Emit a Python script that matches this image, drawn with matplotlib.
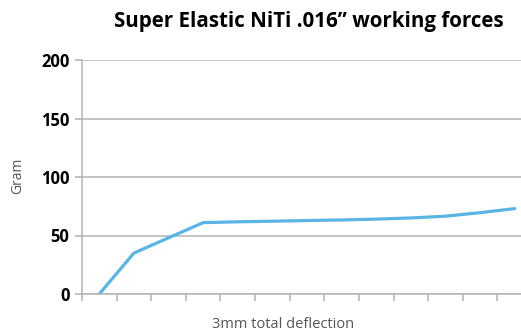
import matplotlib
matplotlib.use('Agg')
import matplotlib.pyplot as plt

# working force at each step across the 3mm deflection
steps = list(range(13))
force = [0, 35, 48, 61, 61.7, 62.2, 62.8, 63.3, 64, 65, 66.5, 69.5, 73]
yticks = [0, 50, 100, 150, 200]

plt.rcParams['font.family'] = ['Open Sans', 'DejaVu Sans']

fig = plt.figure(figsize=(5.21, 3.33), dpi=100)
ax = fig.add_axes([82 / 521, 39 / 333, 450 / 521, 234 / 333])

ax.plot(steps, force, color='#5ab4e5', linewidth=2.3, solid_capstyle='round')

ax.set_xlim(-0.5, 12.5)
ax.set_ylim(0, 200)
ax.set_xticks([i - 0.5 for i in range(14)])
ax.set_xticklabels([])
ax.set_yticks(yticks)
ax.set_yticklabels([str(v) for v in yticks], fontsize=12, fontweight='bold')

ax.grid(axis='y', color='#b3b3b3', linewidth=1.1)
ax.set_axisbelow(True)
for side in ['top', 'right']:
    ax.spines[side].set_visible(False)
ax.spines['left'].set_color('#b3b3b3')
ax.spines['bottom'].set_color('#b3b3b3')
ax.spines['left'].set_linewidth(1.1)
ax.spines['bottom'].set_linewidth(1.1)
ax.tick_params(axis='both', color='#b3b3b3', width=1.1, length=5, pad=4)

fig.text(17.5 / 521, 1 - 176 / 333, 'Gram', fontsize=10, color='#555555',
         rotation=90, ha='center', va='center')
fig.text(283 / 521, 1 - 324 / 333, '3mm total deflection', fontsize=10.5,
         color='#555555', ha='center', va='center')
fig.text(309 / 521, 1 - 22 / 333, 'Super Elastic NiTi .016\u201d working forces',
         fontsize=14.8, fontweight='bold', ha='center', va='center')

fig.savefig('out.png', dpi=100)
